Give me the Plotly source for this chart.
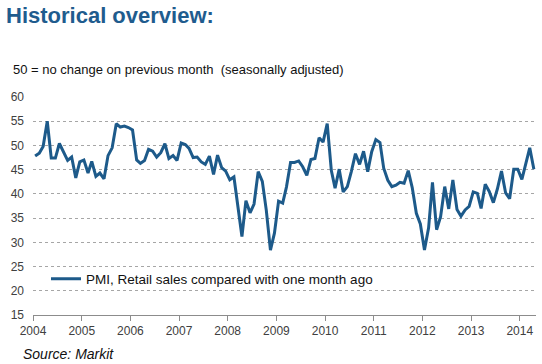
import pandas as pd
import plotly.graph_objects as go

# Monthly PMI values, Jan 2004 - Apr 2014
pmi_values = [
    47.8, 48.4, 49.8, 55.0, 47.4, 47.4, 50.4, 48.6, 46.9, 47.6, 43.3, 46.6,   # 2004
    47.0, 44.3, 46.7, 43.6, 44.3, 43.1, 47.9, 49.5, 54.5, 53.8, 54.0, 53.7,   # 2005
    53.2, 47.0, 46.3, 46.9, 49.2, 48.8, 47.6, 48.5, 50.35, 47.3, 47.9, 46.9,  # 2006
    50.5, 50.2, 49.4, 47.5, 47.6, 46.6, 46.1, 47.8, 44.0, 48.0, 45.4, 44.7,   # 2007
    42.9, 43.5, 37.2, 31.2, 38.6, 36.1, 37.9, 44.6, 42.6, 36.6, 28.4, 31.9,   # 2008
    38.5, 38.1, 41.4, 46.5, 46.5, 46.8, 45.6, 43.8, 47.1, 47.3, 51.6, 50.7,   # 2009
    54.5, 44.8, 41.2, 45.1, 40.4, 41.5, 44.6, 48.3, 46.1, 48.8, 44.6, 48.7,   # 2010
    51.2, 50.6, 45.3, 42.8, 41.5, 41.8, 42.4, 42.2, 44.8, 41.3, 36.0, 33.8,   # 2011
    28.4, 33.0, 42.4, 32.6, 35.3, 41.5, 36.9, 42.85, 36.8, 35.4, 36.7, 37.4,  # 2012
    40.4, 40.1, 37.0, 42.0, 40.5, 38.2, 41.0, 44.7, 40.2, 39.0, 45.1, 45.1,   # 2013
    43.0, 46.3, 49.5, 45.1,                                                   # 2014
]
start_month = "2004-01-01"
series_name = "PMI, Retail sales compared with one month ago"
y_ticks = [15, 20, 25, 30, 35, 40, 45, 50, 55, 60]
x_tick_years = [str(y) for y in range(2004, 2015)]

title_text = "Historical overview:"
subtitle_text = "50 = no change on previous month  (seasonally adjusted)"
source_text = "Source: Markit"

dates = pd.date_range(start_month, periods=len(pmi_values), freq="MS") + pd.Timedelta(days=16)

LINE = "#1d5a8a"
FONT = "Liberation Sans, Arial, sans-serif"

# plot area in pixels
L, R, T, B = 33, 536, 97, 315
W, H = 542, 364


def px(x):
    return (x - L) / (R - L)


def py(y):
    return (B - y) / (B - T)


fig = go.Figure()
fig.add_trace(go.Scatter(
    x=dates, y=pmi_values, mode="lines", name=series_name,
    line=dict(color=LINE, width=3), showlegend=True,
))

fig.update_layout(
    width=W, height=H,
    margin=dict(l=L, r=W - R, t=T, b=H - B, pad=0),
    paper_bgcolor="white", plot_bgcolor="white",
    font=dict(family=FONT, size=11, color="#333333"),
    showlegend=True,
    legend=dict(
        x=px(46), y=py(279), xanchor="left", yanchor="middle",
        bgcolor="rgba(0,0,0,0)", borderwidth=0,
        font=dict(family=FONT, size=13.5, color="#111111"),
        itemwidth=30,
    ),
    xaxis=dict(
        type="date",
        range=["2004-01-01", "2014-05-03"],
        tickmode="array",
        tickvals=[f"{y}-01-01" for y in x_tick_years],
        ticktext=x_tick_years,
        showgrid=False,
        showline=True, linecolor="#8c8c8c", linewidth=1,
        ticks="outside", ticklen=5, tickcolor="#8c8c8c",
        tickfont=dict(family=FONT, size=12, color="#404040"),
        zeroline=False,
    ),
    yaxis=dict(
        range=[15, 60],
        tickmode="array", tickvals=y_ticks,
        showgrid=True, gridcolor="#a6a6a6", gridwidth=1, griddash="dot",
        showline=False, zeroline=False,
        ticks="", ticklabelstandoff=8,
        tickfont=dict(family=FONT, size=12, color="#404040"),
    ),
    annotations=[
        dict(text=f"<b>{title_text}</b>", xref="paper", yref="paper",
             x=px(4), y=py(15), xanchor="left", yanchor="middle", showarrow=False,
             font=dict(family=FONT, size=22, color="#1f5c8e")),
        dict(text=subtitle_text, xref="paper", yref="paper",
             x=px(11), y=py(69), xanchor="left", yanchor="middle", showarrow=False,
             font=dict(family=FONT, size=13, color="#111111")),
        dict(text=f"<i>{source_text}</i>", xref="paper", yref="paper",
             x=px(21), y=py(354), xanchor="left", yanchor="middle", showarrow=False,
             font=dict(family=FONT, size=14, color="#111111")),
    ],
)

fig.write_html(
    "out.html",
    config={"displayModeBar": False},
    post_script="document.body.style.margin='0px';document.body.style.overflow='hidden';",
)
